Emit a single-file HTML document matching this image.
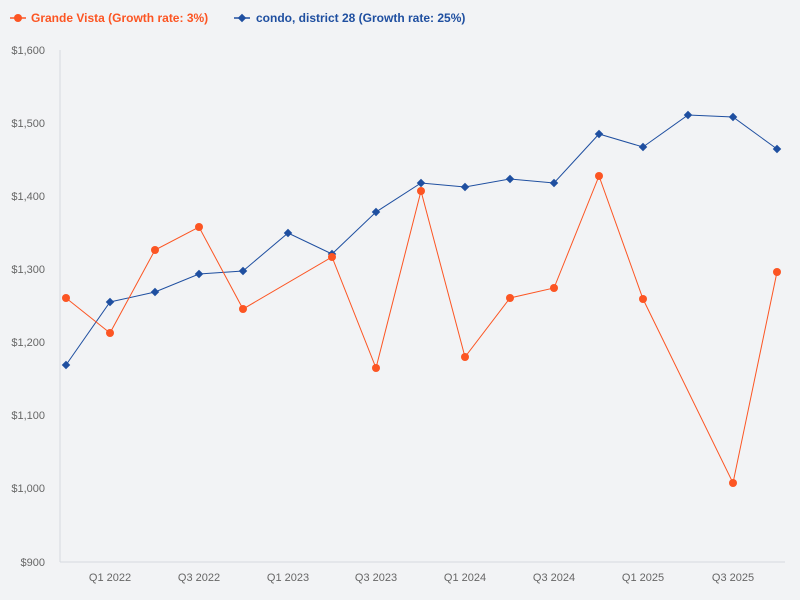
<!DOCTYPE html>
<html><head><meta charset="utf-8"><style>
html,body{margin:0;padding:0;background:#f2f3f5;}
svg{display:block;font-family:"Liberation Sans",sans-serif;}
</style></head><body>
<svg width="800" height="600" viewBox="0 0 800 600">
<rect width="800" height="600" fill="#f2f3f5"/>
<!-- legend -->
<line x1="10" y1="18" x2="26" y2="18" stroke="#fc5523" stroke-width="1.5"/>
<circle cx="18" cy="18" r="4" fill="#fc5523"/>
<text x="31" y="22" font-size="12" font-weight="bold" fill="#fc5523">Grande Vista (Growth rate: 3%)</text>
<line x1="234" y1="18" x2="250" y2="18" stroke="#1f4fa0" stroke-width="1.5"/>
<rect x="239" y="15" width="6" height="6" fill="#1f4fa0" transform="rotate(45 242 18)"/>
<text x="256" y="22" font-size="12" font-weight="bold" fill="#1f4fa0">condo, district 28 (Growth rate: 25%)</text>
<!-- axes -->
<line x1="60" y1="50" x2="60" y2="562" stroke="#d5d9e0"/>
<line x1="60" y1="562" x2="785" y2="562" stroke="#d5d9e0"/>
<g font-size="11" fill="#666" text-anchor="end">
<text x="45" y="54">$1,600</text><text x="45" y="127">$1,500</text><text x="45" y="200">$1,400</text>
<text x="45" y="273">$1,300</text><text x="45" y="346">$1,200</text><text x="45" y="419">$1,100</text>
<text x="45" y="492">$1,000</text><text x="45" y="566">$900</text>
</g>
<g font-size="11" fill="#666" text-anchor="middle">
<text x="110" y="581">Q1 2022</text><text x="199" y="581">Q3 2022</text><text x="288" y="581">Q1 2023</text>
<text x="376" y="581">Q3 2023</text><text x="465" y="581">Q1 2024</text><text x="554" y="581">Q3 2024</text>
<text x="643" y="581">Q1 2025</text><text x="733" y="581">Q3 2025</text>
</g>
<!-- blue -->
<polyline fill="none" stroke="#1f4fa0" stroke-width="1" points="66,365 110,302 155,292 199,274 243,271 288,233 332,254 376,212 421,183 465,187 510,179 554,183 599,134 643,147 688,115 733,117 777,149"/>
<g fill="#1f4fa0">
<rect x="63" y="362" width="6" height="6" transform="rotate(45 66 365)"/>
<rect x="107" y="299" width="6" height="6" transform="rotate(45 110 302)"/>
<rect x="152" y="289" width="6" height="6" transform="rotate(45 155 292)"/>
<rect x="196" y="271" width="6" height="6" transform="rotate(45 199 274)"/>
<rect x="240" y="268" width="6" height="6" transform="rotate(45 243 271)"/>
<rect x="285" y="230" width="6" height="6" transform="rotate(45 288 233)"/>
<rect x="329" y="251" width="6" height="6" transform="rotate(45 332 254)"/>
<rect x="373" y="209" width="6" height="6" transform="rotate(45 376 212)"/>
<rect x="418" y="180" width="6" height="6" transform="rotate(45 421 183)"/>
<rect x="462" y="184" width="6" height="6" transform="rotate(45 465 187)"/>
<rect x="507" y="176" width="6" height="6" transform="rotate(45 510 179)"/>
<rect x="551" y="180" width="6" height="6" transform="rotate(45 554 183)"/>
<rect x="596" y="131" width="6" height="6" transform="rotate(45 599 134)"/>
<rect x="640" y="144" width="6" height="6" transform="rotate(45 643 147)"/>
<rect x="685" y="112" width="6" height="6" transform="rotate(45 688 115)"/>
<rect x="730" y="114" width="6" height="6" transform="rotate(45 733 117)"/>
<rect x="774" y="146" width="6" height="6" transform="rotate(45 777 149)"/>
</g>
<!-- orange -->
<polyline fill="none" stroke="#fc5523" stroke-width="1" points="66,298 110,333 155,250 199,227 243,309 332,257 376,368 421,191 465,357 510,298 554,288 599,176 643,299 733,483 777,272"/>
<g fill="#fc5523">
<circle cx="66" cy="298" r="4"/><circle cx="110" cy="333" r="4"/><circle cx="155" cy="250" r="4"/>
<circle cx="199" cy="227" r="4"/><circle cx="243" cy="309" r="4"/><circle cx="332" cy="257" r="4"/>
<circle cx="376" cy="368" r="4"/><circle cx="421" cy="191" r="4"/><circle cx="465" cy="357" r="4"/>
<circle cx="510" cy="298" r="4"/><circle cx="554" cy="288" r="4"/><circle cx="599" cy="176" r="4"/>
<circle cx="643" cy="299" r="4"/><circle cx="733" cy="483" r="4"/><circle cx="777" cy="272" r="4"/>
</g>
</svg>
</body></html>
